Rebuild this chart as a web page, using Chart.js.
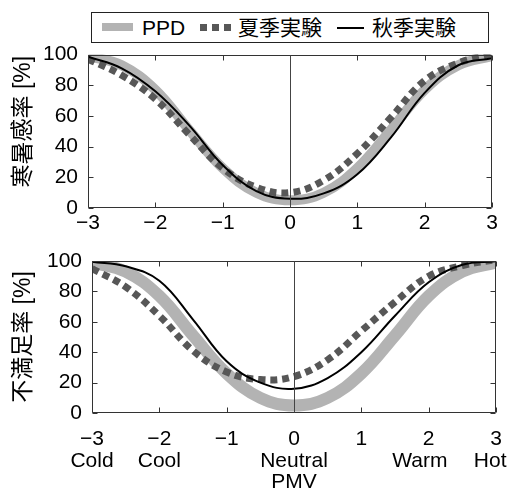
<!DOCTYPE html>
<html>
<head>
<meta charset="utf-8">
<script src="https://cdn.jsdelivr.net/npm/chart.js@4"></script>
<style>
  body { margin: 0; background: #fff; }
  #wrap { position: relative; width: 513px; height: 497px; font-family: "Liberation Sans", "Noto Sans CJK JP", sans-serif; }
  .pane { position: absolute; left: 0; width: 513px; }
  #legend { position: absolute; left: 91px; top: 12px; width: 398px; height: 31px; border: 1px solid #222; box-sizing: border-box; background: #fff; z-index: 2; }
  .lg { position: absolute; z-index: 3; }
  .lt { position: absolute; z-index: 3; font-size: 21px; line-height: 24px; top: 16px; color: #000; white-space: nowrap; }
</style>
</head>
<body>
<div id="wrap">
  <div class="pane" style="top:0;height:240px"><canvas id="topChart"></canvas></div>
  <div class="pane" style="top:240px;height:257px"><canvas id="bottomChart"></canvas></div>
  <div id="legend"></div>
  <div class="lg" style="left:102px;top:23px;width:31px;height:8px;background:#b3b3b3"></div>
  <span class="lt" id="lgPPD" style="left:142px"></span>
  <div class="lg" style="left:200px;top:24px;width:31px;height:7px;background:repeating-linear-gradient(90deg,#575757 0 7px,transparent 7px 12px)"></div>
  <span class="lt" id="lgSummer" style="left:238px"></span>
  <div class="lg" style="left:337px;top:27px;width:27px;height:2px;background:#000"></div>
  <span class="lt" id="lgAutumn" style="left:372px"></span>
</div>
<script>
// PMV positions the curves were read at
const pmv = [-3, -2.5, -2, -1.5, -1, -0.5, 0, 0.5, 1, 1.5, 2, 2.5, 3];

// upper panel: 寒暑感率 [%]
const ppdTop    = [99, 93, 77, 51, 26, 10, 5, 10, 26, 51, 77, 93, 99];
const summerTop = [97, 86.5, 71, 48, 26, 13.5, 10, 18, 35.5, 59, 83, 94.5, 100.5];
const autumnTop = [98.5, 91, 76, 54, 28, 11, 6, 9.5, 22, 46, 75, 93, 97.5];

// lower panel: 不満足率 [%]
const ppdBottom    = [99, 93, 77, 51, 26, 10, 5, 10, 26, 51, 77, 93, 99];
const summerBottom = [95, 83, 64, 41, 27, 22, 24, 35, 54, 73, 90, 97, 101];
const autumnBottom = [99.5, 96.5, 87, 61.5, 34, 20, 16, 23, 40, 64, 86, 97.5, 99.8];

const seriesNames = ['PPD', '夏季実験', '秋季実験'];
const yTitles = ['寒暑感率 [%]', '不満足率 [%]'];
const xTitle = 'PMV';
const pmvTicks = [-3, -2, -1, 0, 1, 2, 3];
const pmvWords = ['Cold', 'Cool', '', 'Neutral', '', 'Warm   ', 'Hot  '];

document.getElementById('lgPPD').textContent = seriesNames[0];
document.getElementById('lgSummer').textContent = seriesNames[1];
document.getElementById('lgAutumn').textContent = seriesNames[2];

const FONT = '"Liberation Sans", "Noto Sans CJK JP", sans-serif';

function points(ys) {
  return pmv.map((x, i) => ({ x: x, y: ys[i] }));
}

function numLabel(v) {
  return v < 0 ? '\u2212' + Math.abs(v) : String(v);
}

// box round the plot, inward tick marks and the line at PMV = 0
const framePlugin = {
  id: 'frame',
  afterDatasetsDraw(chart) {
    const { ctx, chartArea: a, scales: { x, y } } = chart;
    const L = Math.round(a.left) + 0.5, R = Math.round(a.right) - 0.5;
    const T = Math.round(a.top) + 0.5, B = Math.round(a.bottom) - 0.5;
    ctx.save();
    ctx.strokeStyle = '#333';
    ctx.lineWidth = 1;
    ctx.beginPath();
    ctx.rect(L, T, R - L, B - T);
    x.ticks.forEach(t => {
      const px = Math.round(x.getPixelForValue(t.value)) + 0.5;
      ctx.moveTo(px, B); ctx.lineTo(px, B - 5);
      ctx.moveTo(px, T); ctx.lineTo(px, T + 5);
    });
    y.ticks.forEach(t => {
      const py = Math.round(y.getPixelForValue(t.value)) + 0.5;
      ctx.moveTo(L, py); ctx.lineTo(L + 5, py);
      ctx.moveTo(R, py); ctx.lineTo(R - 5, py);
    });
    ctx.stroke();
    const z = Math.round(x.getPixelForValue(0)) + 0.5;
    ctx.strokeStyle = '#444';
    ctx.beginPath();
    ctx.moveTo(z, B); ctx.lineTo(z, T);
    ctx.stroke();
    ctx.restore();
  }
};

function makeChart(id, ppd, summer, autumn, cfg) {
  return new Chart(document.getElementById(id), {
    type: 'line',
    data: {
      datasets: [
        { label: seriesNames[2], data: points(autumn), borderColor: '#000', borderWidth: 2, order: 1 },
        { label: seriesNames[1], data: points(summer), borderColor: '#575757', borderWidth: 7,
          borderDash: [7, 5], borderCapStyle: 'butt', order: 2 },
        { label: seriesNames[0], data: points(ppd), borderColor: '#b3b3b3', borderWidth: cfg.ppdWidth, order: 3 }
      ]
    },
    options: {
      responsive: true,
      maintainAspectRatio: false,
      animation: false,
      devicePixelRatio: 1,
      layout: { padding: cfg.padding },
      elements: {
        point: { radius: 0 },
        line: { tension: 0.4, fill: false }
      },
      plugins: { legend: { display: false }, tooltip: { enabled: false } },
      scales: {
        x: {
          type: 'linear', min: -3, max: 3,
          grid: { display: false, drawTicks: false },
          border: { display: false },
          afterBuildTicks: s => { s.ticks = pmvTicks.map(v => ({ value: v })); },
          ticks: {
            padding: cfg.xPad, color: '#000', maxRotation: 0, autoSkip: false,
            font: { family: FONT, size: 21, lineHeight: 1.05 },
            callback: cfg.xLabel
          },
          title: cfg.xTitle,
          afterFit: s => { s.height = cfg.xHeight; s.paddingLeft = 0; s.paddingRight = 0; }
        },
        y: {
          min: 0, max: 100,
          grid: { display: false, drawTicks: false },
          border: { display: false },
          ticks: { stepSize: 20, padding: 10, color: '#000', font: { family: FONT, size: 21 } },
          title: {
            display: true, text: cfg.yTitle, color: '#000',
            font: { family: FONT, size: 23 }, padding: { top: 10, bottom: 0 }
          },
          afterFit: s => { s.width = cfg.yWidth; s.paddingTop = 0; s.paddingBottom = 0; }
        }
      }
    },
    plugins: [framePlugin]
  });
}

makeChart('topChart', ppdTop, summerTop, autumnTop, {
  ppdWidth: 10,
  padding: { top: 54.5, right: 21, left: 0, bottom: 0 },
  yWidth: 88, xHeight: 32, xPad: 4,
  yTitle: '   ' + yTitles[0],
  xLabel: v => numLabel(v),
  xTitle: { display: false }
});

makeChart('bottomChart', ppdBottom, summerBottom, autumnBottom, {
  ppdWidth: 12,
  padding: { top: 21, right: 17, left: 0, bottom: 0 },
  yWidth: 92, xHeight: 84, xPad: 15,
  yTitle: yTitles[1],
  xLabel: v => {
    const w = pmvWords[pmvTicks.indexOf(v)];
    return w ? [numLabel(v), w] : numLabel(v);
  },
  xTitle: {
    display: true, text: xTitle, color: '#000',
    font: { family: FONT, size: 21 }, padding: { top: 0, bottom: 2 }
  }
});
</script>
</body>
</html>
